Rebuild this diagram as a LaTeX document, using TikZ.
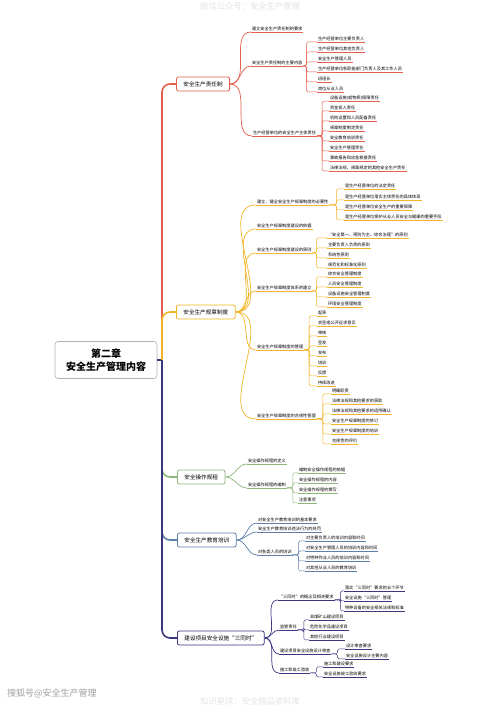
\documentclass[tikz,border=0pt]{standalone}
\usepackage{fontspec}
\setmainfont{Noto Sans CJK SC}
\definecolor{redline}{HTML}{E4604E}
\definecolor{yellowline}{HTML}{F2B526}
\definecolor{greenline}{HTML}{8CB57A}
\definecolor{blueline}{HTML}{5C7FA8}
\definecolor{navyline}{HTML}{3A3680}

\begin{document}
\begin{tikzpicture}[x=1pt,y=-1pt]
  \tikzstyle{leaf}=[font=\fontsize{4.2}{5}\selectfont, inner sep=0.8pt, anchor=west,
    append after command={(\tikzlastnode.south west) edge[draw=cur, line width=0.5pt] (\tikzlastnode.south east)}]
  \tikzstyle{topic}=[draw=cur, fill=white, rounded corners=2pt, line width=0.8pt, anchor=west,
    font=\fontsize{5.6}{6.5}\selectfont, inner xsep=7pt, inner ysep=0pt, minimum height=14pt]
  \tikzstyle{branch}=[draw=cur, line width=0.7pt]
  \tikzstyle{twig}=[draw=cur, line width=0.5pt, rounded corners=1.5pt]
  \tikzstyle{trunk}=[line width=1.6pt, rounded corners=8pt]
  \tikzstyle{wm}=[font=\fontsize{8.3}{9}\selectfont, text=gray!22, inner sep=0pt]

  \fill[white] (0,0) rectangle (500,706);
  \useasboundingbox (0,0) rectangle (500,706);

  \node[wm] (wmtop) at (250,6) {微信公众号：安全生产管理};
  \node[wm] (wmbottom) at (250,701) {知识星球：安全精品资料库};
  \node[font=\fontsize{9}{10}\selectfont, text=gray!75, anchor=west, inner sep=0pt] (wmleft) at (7,693) {搜狐号@安全生产管理};

  \node[draw=gray!60, fill=white, rounded corners=3pt, line width=0.6pt, minimum width=102pt,
    minimum height=37pt, align=center, font=\fontsize{10}{13}\selectfont\bfseries] (root) at (106,360)
    {第二章\\安全生产管理内容};
  \coordinate (hub) at (162,360);

  % 安全生产责任制
  \begin{scope}
    \colorlet{cur}{redline}
    \node[topic] (m1) at (176,84) {安全生产责任制};
    \node[leaf] (s11) at (251,29) {建立安全生产责任制的要求};
    \node[leaf] (s12) at (251,63) {安全生产责任制的主要内容};
    \node[leaf] (s12a) at (317,39) {生产经营单位主要负责人};
    \node[leaf] (s12b) at (317,49) {生产经营单位其他负责人};
    \node[leaf] (s12c) at (317,59) {安全生产管理人员};
    \node[leaf] (s12d) at (317,69) {生产经营单位各职能部门负责人及其工作人员};
    \node[leaf] (s12e) at (317,79) {班组长};
    \node[leaf] (s12f) at (317,89) {岗位从业人员};
    \node[leaf] (s13) at (252,133) {生产经营单位的安全生产主体责任};
    \node[leaf] (s13a) at (329,98) {设备设施(或物质)保障责任};
    \node[leaf] (s13b) at (329,108) {资金投入责任};
    \node[leaf] (s13c) at (329,118) {机构设置和人员配备责任};
    \node[leaf] (s13d) at (329,128) {规章制度制定责任};
    \node[leaf] (s13e) at (329,138) {安全教育培训责任};
    \node[leaf] (s13f) at (329,148) {安全生产管理责任};
    \node[leaf] (s13g) at (329,158) {事故报告和应急救援责任};
    \node[leaf] (s13h) at (329,168) {法律法规、规章规定的其他安全生产责任};
    \draw[branch] (m1.east) to[out=0,in=180] (s11.south west);
    \draw[branch] (m1.east) to[out=0,in=180] (s12.south west);
    \draw[branch] (m1.east) to[out=0,in=180] (s13.south west);
    \draw[twig] (s12.south east) -- ++(3,0) |- (s12a.south west);
    \draw[twig] (s12.south east) -- ++(3,0) |- (s12b.south west);
    \draw[twig] (s12.south east) -- ++(3,0) |- (s12c.south west);
    \draw[twig] (s12.south east) -- ++(3,0) |- (s12d.south west);
    \draw[twig] (s12.south east) -- ++(3,0) |- (s12e.south west);
    \draw[twig] (s12.south east) -- ++(3,0) |- (s12f.south west);
    \draw[twig] (s13.south east) -- ++(5,0) |- (s13a.south west);
    \draw[twig] (s13.south east) -- ++(5,0) |- (s13b.south west);
    \draw[twig] (s13.south east) -- ++(5,0) |- (s13c.south west);
    \draw[twig] (s13.south east) -- ++(5,0) |- (s13d.south west);
    \draw[twig] (s13.south east) -- ++(5,0) |- (s13e.south west);
    \draw[twig] (s13.south east) -- ++(5,0) |- (s13f.south west);
    \draw[twig] (s13.south east) -- ++(5,0) |- (s13g.south west);
    \draw[twig] (s13.south east) -- ++(5,0) |- (s13h.south west);
  \end{scope}

  % 安全生产规章制度
  \begin{scope}
    \colorlet{cur}{yellowline}
    \node[topic] (m2) at (176,312) {安全生产规章制度};
    \node[leaf] (s21) at (256,202) {建立、健全安全生产规章制度的必要性};
    \node[leaf] (s21a) at (344,186) {是生产经营单位的法定责任};
    \node[leaf] (s21b) at (344,197) {是生产经营单位落实主体责任的具体体现};
    \node[leaf] (s21c) at (344,207) {是生产经营单位安全生产的重要保障};
    \node[leaf] (s21d) at (344,217) {是生产经营单位保护从业人员安全与健康的重要手段};
    \node[leaf] (s22) at (256,226) {安全生产规章制度建设的依据};
    \node[leaf] (s23) at (256,250) {安全生产规章制度建设的原则};
    \node[leaf] (s23a) at (327,235) {“安全第一、预防为主、综合治理”的原则};
    \node[leaf] (s23b) at (327,245) {主要负责人负责的原则};
    \node[leaf] (s23c) at (327,255) {系统性原则};
    \node[leaf] (s23d) at (327,265) {规范化和标准化原则};
    \node[leaf] (s24) at (256,288) {安全生产规章制度体系的建立};
    \node[leaf] (s24a) at (327,274) {综合安全管理制度};
    \node[leaf] (s24b) at (327,284) {人员安全管理制度};
    \node[leaf] (s24c) at (327,294) {设备设施安全管理制度};
    \node[leaf] (s24d) at (327,304) {环境安全管理制度};
    \node[leaf] (s25) at (256,347) {安全生产规章制度的管理};
    \node[leaf] (s25a) at (317,313) {起草};
    \node[leaf] (s25b) at (317,323) {会签或公开征求意见};
    \node[leaf] (s25c) at (317,333) {审核};
    \node[leaf] (s25d) at (317,343) {签发};
    \node[leaf] (s25e) at (317,353) {发布};
    \node[leaf] (s25f) at (317,363) {培训};
    \node[leaf] (s25g) at (317,373) {反馈};
    \node[leaf] (s25h) at (317,383) {持续改进};
    \node[leaf] (s26) at (256,416) {安全生产规章制度的合规性管理};
    \node[leaf] (s26a) at (331,391) {明确职责};
    \node[leaf] (s26b) at (331,401) {法律法规和其他要求的获取};
    \node[leaf] (s26c) at (331,411) {法律法规和其他要求的适用确认};
    \node[leaf] (s26d) at (331,421) {安全生产规章制度的修订};
    \node[leaf] (s26e) at (331,431) {安全生产规章制度的培训};
    \node[leaf] (s26f) at (331,441) {合规性的评价};
    \draw[branch] (m2.east) to[out=0,in=180] (s21.south west);
    \draw[branch] (m2.east) to[out=0,in=180] (s22.south west);
    \draw[branch] (m2.east) to[out=0,in=180] (s23.south west);
    \draw[branch] (m2.east) to[out=0,in=180] (s24.south west);
    \draw[branch] (m2.east) to[out=0,in=180] (s25.south west);
    \draw[branch] (m2.east) to[out=0,in=180] (s26.south west);
    \draw[twig] (s21.south east) -- ++(7,0) |- (s21a.south west);
    \draw[twig] (s21.south east) -- ++(7,0) |- (s21b.south west);
    \draw[twig] (s21.south east) -- ++(7,0) |- (s21c.south west);
    \draw[twig] (s21.south east) -- ++(7,0) |- (s21d.south west);
    \draw[twig] (s23.south east) -- ++(4,0) |- (s23a.south west);
    \draw[twig] (s23.south east) -- ++(4,0) |- (s23b.south west);
    \draw[twig] (s23.south east) -- ++(4,0) |- (s23c.south west);
    \draw[twig] (s23.south east) -- ++(4,0) |- (s23d.south west);
    \draw[twig] (s24.south east) -- ++(4,0) |- (s24a.south west);
    \draw[twig] (s24.south east) -- ++(4,0) |- (s24b.south west);
    \draw[twig] (s24.south east) -- ++(4,0) |- (s24c.south west);
    \draw[twig] (s24.south east) -- ++(4,0) |- (s24d.south west);
    \draw[twig] (s25.south east) -- ++(5,0) |- (s25a.south west);
    \draw[twig] (s25.south east) -- ++(5,0) |- (s25b.south west);
    \draw[twig] (s25.south east) -- ++(5,0) |- (s25c.south west);
    \draw[twig] (s25.south east) -- ++(5,0) |- (s25d.south west);
    \draw[twig] (s25.south east) -- ++(5,0) |- (s25e.south west);
    \draw[twig] (s25.south east) -- ++(5,0) |- (s25f.south west);
    \draw[twig] (s25.south east) -- ++(5,0) |- (s25g.south west);
    \draw[twig] (s25.south east) -- ++(5,0) |- (s25h.south west);
    \draw[twig] (s26.south east) -- ++(6,0) |- (s26a.south west);
    \draw[twig] (s26.south east) -- ++(6,0) |- (s26b.south west);
    \draw[twig] (s26.south east) -- ++(6,0) |- (s26c.south west);
    \draw[twig] (s26.south east) -- ++(6,0) |- (s26d.south west);
    \draw[twig] (s26.south east) -- ++(6,0) |- (s26e.south west);
    \draw[twig] (s26.south east) -- ++(6,0) |- (s26f.south west);
  \end{scope}

  % 安全操作规程
  \begin{scope}
    \colorlet{cur}{greenline}
    \node[topic] (m3) at (177,477) {安全操作规程};
    \node[leaf] (s31) at (247,461) {安全操作规程的定义};
    \node[leaf] (s32) at (247,485) {安全操作规程的编制};
    \node[leaf] (s32a) at (298,470) {编制安全操作规程的依据};
    \node[leaf] (s32b) at (298,480) {安全操作规程的内容};
    \node[leaf] (s32c) at (298,490) {安全操作规程的撰写};
    \node[leaf] (s32d) at (298,500) {注意事项};
    \draw[branch] (m3.east) to[out=0,in=180] (s31.south west);
    \draw[branch] (m3.east) to[out=0,in=180] (s32.south west);
    \draw[twig] (s32.south east) -- ++(6,0) |- (s32a.south west);
    \draw[twig] (s32.south east) -- ++(6,0) |- (s32b.south west);
    \draw[twig] (s32.south east) -- ++(6,0) |- (s32c.south west);
    \draw[twig] (s32.south east) -- ++(6,0) |- (s32d.south west);
  \end{scope}

  % 安全生产教育培训
  \begin{scope}
    \colorlet{cur}{blueline}
    \node[topic] (m4) at (177,540) {安全生产教育培训};
    \node[leaf] (s41) at (257,520) {对安全生产教育培训的基本要求};
    \node[leaf] (s42) at (257,529) {安全生产教育培训违法行为的处罚};
    \node[leaf] (s43) at (257,552) {对各类人员的培训};
    \node[leaf] (s43a) at (305,538) {对主要负责人的培训内容和时间};
    \node[leaf] (s43b) at (305,548) {对安全生产管理人员的培训内容和时间};
    \node[leaf] (s43c) at (305,558) {对特种作业人员的培训内容和时间};
    \node[leaf] (s43d) at (305,568) {对其他从业人员的教育培训};
    \draw[branch] (m4.east) to[out=0,in=180] (s41.south west);
    \draw[branch] (m4.east) to[out=0,in=180] (s42.south west);
    \draw[branch] (m4.east) to[out=0,in=180] (s43.south west);
    \draw[twig] (s43.south east) -- ++(6,0) |- (s43a.south west);
    \draw[twig] (s43.south east) -- ++(6,0) |- (s43b.south west);
    \draw[twig] (s43.south east) -- ++(6,0) |- (s43c.south west);
    \draw[twig] (s43.south east) -- ++(6,0) |- (s43d.south west);
  \end{scope}

  % 建设项目安全设施"三同时"
  \begin{scope}
    \colorlet{cur}{navyline}
    \node[topic] (m5) at (177,638) {建设项目安全设施“三同时”};
    \node[leaf] (s51) at (278,597) {“三同时”的概念及相关要求};
    \node[leaf] (s51a) at (344,588) {落实“三同时”要求的五个环节};
    \node[leaf] (s51b) at (344,598) {安全设施“三同时”管理};
    \node[leaf] (s51c) at (344,608) {特种设备的安全相关法规和标准};
    \node[leaf] (s52) at (279,627) {监管责任};
    \node[leaf] (s52a) at (309,617) {非煤矿山建设项目};
    \node[leaf] (s52b) at (309,627) {危险化学品建设项目};
    \node[leaf] (s52c) at (309,637) {其他行业建设项目};
    \node[leaf] (s53) at (279,651) {建设项目安全设施设计审查};
    \node[leaf] (s53a) at (345,646) {设计审查要求};
    \node[leaf] (s53b) at (345,656) {安全设施设计主要内容};
    \node[leaf] (s54) at (279,670) {施工和竣工验收};
    \node[leaf] (s54a) at (323,664) {施工和建设要求};
    \node[leaf] (s54b) at (323,674) {安全设施竣工验收要求};
    \draw[branch] (m5.east) to[out=0,in=180] (s51.south west);
    \draw[branch] (m5.east) to[out=0,in=180] (s52.south west);
    \draw[branch] (m5.east) to[out=0,in=180] (s53.south west);
    \draw[branch] (m5.east) to[out=0,in=180] (s54.south west);
    \draw[twig] (s51.south east) -- ++(6,0) |- (s51a.south west);
    \draw[twig] (s51.south east) -- ++(6,0) |- (s51b.south west);
    \draw[twig] (s51.south east) -- ++(6,0) |- (s51c.south west);
    \draw[twig] (s52.south east) -- ++(6,0) |- (s52a.south west);
    \draw[twig] (s52.south east) -- ++(6,0) |- (s52b.south west);
    \draw[twig] (s52.south east) -- ++(6,0) |- (s52c.south west);
    \draw[twig] (s53.south east) -- ++(6,0) |- (s53a.south west);
    \draw[twig] (s53.south east) -- ++(6,0) |- (s53b.south west);
    \draw[twig] (s54.south east) -- ++(6,0) |- (s54a.south west);
    \draw[twig] (s54.south east) -- ++(6,0) |- (s54b.south west);
  \end{scope}

  % trunk from the root
  \draw[line width=1.6pt, navyline] (root.east) -- (hub);
  \draw[trunk, redline] (hub) |- (m1.west);
  \draw[trunk, yellowline] (hub) |- (m2.west);
  \draw[trunk, greenline] (hub) |- (m3.west);
  \draw[trunk, blueline] (hub) |- (m4.west);
  \draw[trunk, navyline] (hub) |- (m5.west);
\end{tikzpicture}
\end{document}
